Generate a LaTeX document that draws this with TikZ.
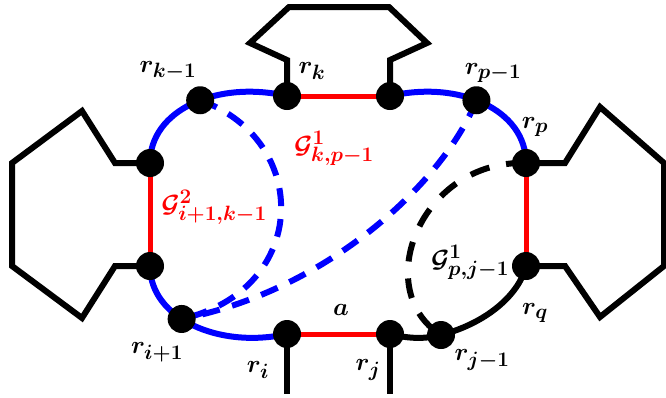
\documentclass[tikz,border=0pt]{standalone}
\usetikzlibrary{calc}
\definecolor{rred}{RGB}{255,0,0}
\definecolor{bblue}{RGB}{0,0,255}
\tikzset{
  redline/.style={draw=rred,line width=5pt},
  blueline/.style={draw=bblue,line width=6pt},
  blackline/.style={draw=black,line width=6pt},
  bluedash/.style={draw=bblue,line width=6pt,dash pattern=on 18pt off 13pt},
  blackdash/.style={draw=black,line width=6pt,dash pattern=on 20pt off 17pt},
  polyline/.style={draw=black,line width=6pt,line join=miter},
  vdot/.style={circle,fill=black,inner sep=0pt,minimum size=28pt},
  lab/.style={font=\fontsize{30}{34}\selectfont\boldmath,inner sep=0pt},
}
\begin{document}
\begin{tikzpicture}[x=1pt,y=-1pt]
\useasboundingbox (0,0) rectangle (666,397);
% main corner coordinates
\coordinate (rk) at (287,96);
\coordinate (rt) at (390,96);
\coordinate (lu) at (150,163);
\coordinate (ll) at (150,266);
\coordinate (ri) at (287,334);
\coordinate (rj) at (390,334);
\coordinate (rp) at (526,163);
\coordinate (rq) at (526,266);
% red edges
\draw[redline] (rk) -- (rt);
\draw[redline] (lu) -- (ll);
\draw[redline] (rp) -- (rq);
\draw[redline] (ri) -- (rj);
% blue arcs
\draw[blueline] (lu) .. controls (150,110) and (217,80) .. coordinate[pos=0.55] (rk1) (rk);
\draw[blueline] (rt) .. controls (460,80) and (526,110) .. coordinate[pos=0.45] (rp1) (rp);
\draw[blueline] (ll) .. controls (150,319) and (220,349) .. coordinate[pos=0.42] (ri1) (ri);
% black arc bottom right
\coordinate (rj1) at (441,335);
\draw[blackline] (rj) .. controls (410,339) and (425,339) .. (rj1)
  .. controls (490,322) and (520,292) .. (rq);
% dashed curves
\draw[bluedash] (rk1) .. controls (312,140) and (310,290) .. (ri1);
\draw[bluedash] (rp1) .. controls (445,180) and (330,290) .. (ri1);
\draw[blackdash] (rp) .. controls (420,160) and (370,290) .. (rj1);
% polygons
\draw[polyline] (rk) -- (287,60) -- (250,43) -- (289,7) -- (389,7) -- (427,43) -- (390,60) -- (rt);
\draw[polyline] (lu) -- (115,163) -- (82,111) -- (12,163) -- (12,266) -- (82,318) -- (115,266) -- (ll);
\draw[polyline] (rp) -- (565,163) -- (600,107) -- (664,163) -- (664,266) -- (600,317) -- (565,266) -- (rq);
\coordinate (bi) at (287,394);
\coordinate (bj) at (390,394);
\draw[blackline] (ri) -- (bi);
\draw[blackline] (rj) -- (bj);
% dots
\foreach \p in {rk,rt,lu,ll,ri,rj,rp,rq,rk1,rp1,ri1,rj1}
  \node[vdot] (d\p) at (\p) {};
% labels
\node[lab] (Lrk1) at (168,71) {$r_{k-1}$};
\node[lab] (Lrk) at (312,71) {$r_k$};
\node[lab] (Lrp1) at (493,73) {$r_{p-1}$};
\node[lab] (Lrp) at (535,127) {$r_p$};
\node[lab,text=rred] (G1) at (334,148) {$\mathcal{G}^1_{k,p-1}$};
\node[lab,text=rred] (G2) at (214,207) {$\mathcal{G}^2_{i+1,k-1}$};
\node[lab] (G3) at (470,262) {$\mathcal{G}^1_{p,j-1}$};
\node[lab] (Lri1) at (157,352) {$r_{i+1}$};
\node[lab] (Lri) at (258,370) {$r_i$};
\node[lab] (La) at (341,310) {$a$};
\node[lab] (Lrj) at (368,370) {$r_j$};
\node[lab] (Lrj1) at (482,360) {$r_{j-1}$};
\node[lab] (Lrq) at (535,313) {$r_q$};
\end{tikzpicture}
\end{document}
